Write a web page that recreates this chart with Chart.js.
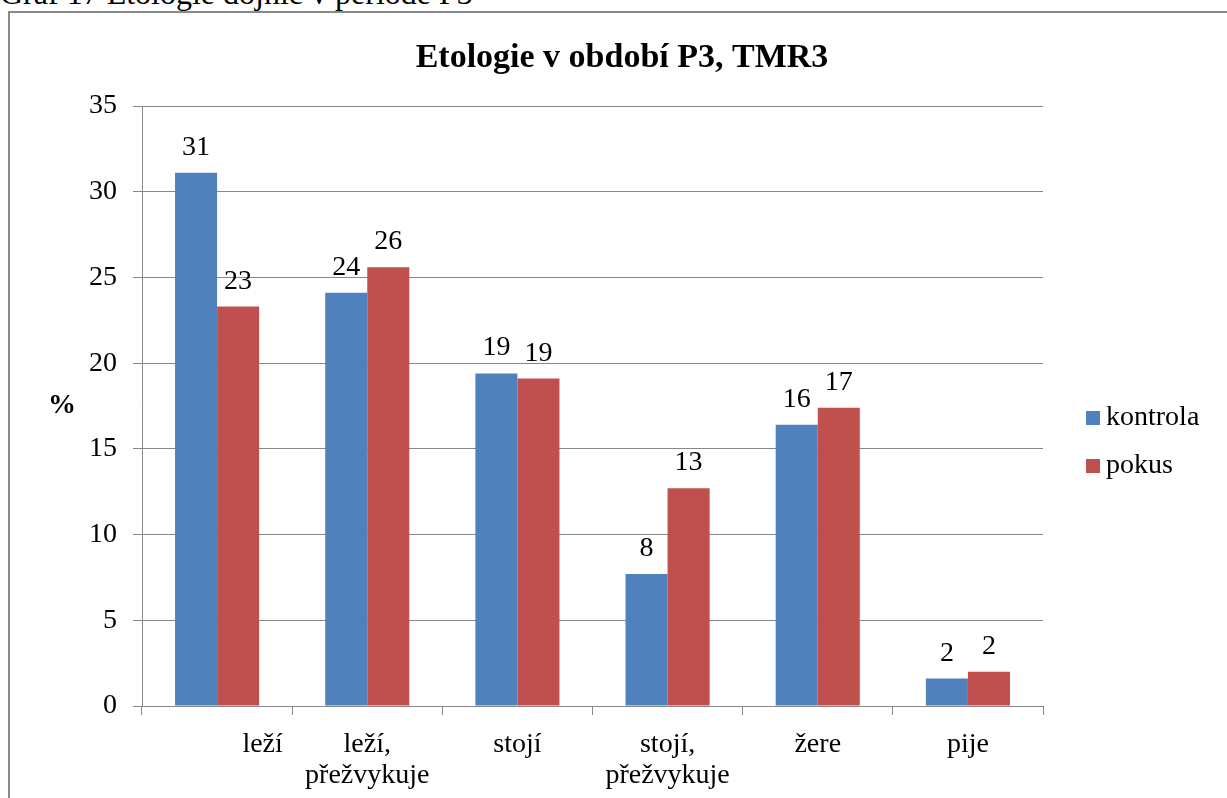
<!DOCTYPE html>
<html>
<head>
<meta charset="utf-8">
<script src="https://cdn.jsdelivr.net/npm/chart.js@4.4.1/dist/chart.umd.min.js"></script>
<style>
  html, body { margin: 0; padding: 0; background: #fff; overflow: hidden; }
  #wrap { position: relative; width: 1227px; height: 798px; overflow: hidden; background: #fff; }
  #header { position: absolute; left: 0; top: -23px; font-family: 'Liberation Serif', serif; font-size: 32px; line-height: 32px; color: #000; white-space: nowrap; }
  #frame { position: absolute; left: 8px; top: 11px; width: 1240px; height: 800px; border-left: 2px solid #8a8a8a; border-top: 2px solid #8a8a8a; box-sizing: border-box; }
  #c { position: absolute; left: 0; top: 0; }
</style>
</head>
<body>
<div id="wrap">
  <div id="header">Graf 17 Etologie dojnic v periode P3</div>
  <div id="frame"></div>
  <canvas id="c" width="1227" height="798"></canvas>
</div>
<script>
// ---- data ----
const chartTitle = 'Etologie v období P3, TMR3';
const yAxisLabel = '%';
const categories = ['leží', ['leží,', 'přežvykuje'], 'stojí', ['stojí,', 'přežvykuje'], 'žere', 'pije'];
const kontrola = [31.1, 24.1, 19.4, 7.7, 16.4, 1.6];
const pokus = [23.3, 25.6, 19.1, 12.7, 17.4, 2.0];
const seriesNames = ['kontrola', 'pokus'];
const yTicks = [0, 5, 10, 15, 20, 25, 30, 35];

const FONT = '"Liberation Serif", serif';
const GRID = '#878787';

const dataLabelsPlugin = {
  id: 'dataLabels',
  afterDatasetsDraw(chart) {
    const ctx = chart.ctx;
    ctx.save();
    ctx.font = '28px ' + FONT;
    ctx.fillStyle = '#000';
    ctx.textAlign = 'center';
    ctx.textBaseline = 'alphabetic';
    chart.data.datasets.forEach((ds, di) => {
      const meta = chart.getDatasetMeta(di);
      meta.data.forEach((bar, i) => {
        ctx.fillText(String(Math.round(ds.data[i])), bar.x, bar.y - 18);
      });
    });
    ctx.restore();
  }
};

const sideTextPlugin = {
  id: 'sideText',
  afterDraw(chart) {
    const ctx = chart.ctx;
    const area = chart.chartArea;
    ctx.save();
    // chart title
    ctx.font = 'bold 34px ' + FONT;
    ctx.fillStyle = '#000';
    ctx.textAlign = 'center';
    ctx.textBaseline = 'alphabetic';
    ctx.fillText(chartTitle, 622, 67);
    // y axis title (horizontal)
    ctx.font = 'bold 28px ' + FONT;
    ctx.textBaseline = 'middle';
    ctx.fillText(yAxisLabel, 62, (area.top + area.bottom) / 2);
    // legend
    ctx.font = '28px ' + FONT;
    ctx.textAlign = 'left';
    const x0 = area.right + 43;
    const midY = (area.top + area.bottom) / 2 + 36;
    const gap = 48;
    chart.data.datasets.forEach((ds, i) => {
      const cy = midY - gap / 2 + i * gap;
      ctx.fillStyle = ds.backgroundColor;
      ctx.fillRect(x0, cy - 7, 14, 14);
      ctx.fillStyle = '#000';
      ctx.fillText(ds.label, x0 + 20, cy);
    });
    ctx.restore();
  }
};

function draw() {
  new Chart(document.getElementById('c'), {
    type: 'bar',
    data: {
      labels: categories,
      datasets: [
        { label: seriesNames[0], data: kontrola, backgroundColor: '#4F81BD', borderWidth: 0 },
        { label: seriesNames[1], data: pokus, backgroundColor: '#C0504D', borderWidth: 0 }
      ]
    },
    options: {
      responsive: false,
      animation: false,
      devicePixelRatio: 1,
      layout: { padding: { left: 0, right: 184, top: 106, bottom: 0 } },
      datasets: { bar: { categoryPercentage: 0.56, barPercentage: 1.0 } },
      plugins: {
        legend: { display: false },
        tooltip: { enabled: false },
        title: { display: false }
      },
      scales: {
        x: {
          offset: true,
          grid: { display: true, drawOnChartArea: false, drawTicks: true, tickLength: 9, color: GRID, offset: true },
          border: { display: true, color: GRID, width: 1 },
          ticks: {
            color: '#000',
            font: { family: FONT, size: 28, lineHeight: 1.1 },
            padding: 14,
            maxRotation: 0,
            minRotation: 0,
            autoSkip: false,
            callback: function (value, index) {
              const lab = this.getLabelForValue(value);
              if (index === 0) return '\u00a0'.repeat(13) + lab;
              return lab;
            }
          },
          afterFit(scale) { scale.height = 92; }
        },
        y: {
          min: 0,
          max: 35,
          afterBuildTicks(scale) { scale.ticks = yTicks.map(v => ({ value: v })); },
          grid: { color: GRID, lineWidth: 1, drawTicks: true, tickLength: 9 },
          border: { display: true, color: GRID, width: 1 },
          ticks: {
            color: '#000',
            font: { family: FONT, size: 28 },
            padding: 16
          },
          afterFit(scale) { scale.width = 142; }
        }
      }
    },
    plugins: [dataLabelsPlugin, sideTextPlugin]
  });
}

Promise.all([
  document.fonts.load('28px "Liberation Serif"'),
  document.fonts.load('bold 28px "Liberation Serif"')
]).then(draw, draw);
</script>
</body>
</html>
